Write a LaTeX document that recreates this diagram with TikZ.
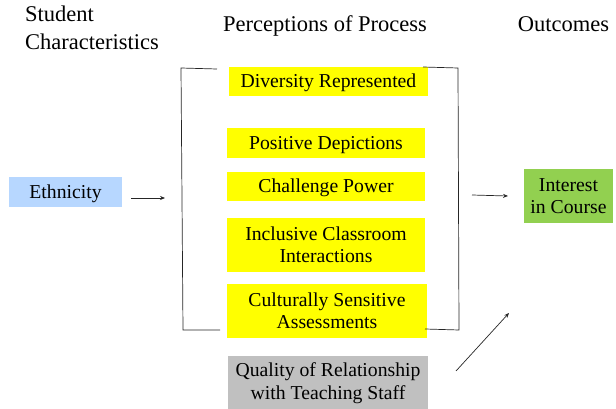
\documentclass[tikz,border=0pt]{standalone}
\usepackage{fontspec}
\setmainfont{Liberation Serif}
\newfontfamily\timesf{Liberation Serif}
\usetikzlibrary{arrows.meta}
\definecolor{ybox}{HTML}{FFFF00}
\definecolor{bbox}{HTML}{B7D7FF}
\definecolor{gbox}{HTML}{92D050}
\definecolor{grbox}{HTML}{C0C0C0}
\begin{document}
\begin{tikzpicture}[x=1pt,y=-1pt,
  hdr/.style={inner sep=0pt,font=\timesf\fontsize{22.5}{28}\selectfont},
  boxbase/.style={inner sep=0pt,align=center,font=\timesf\fontsize{19.7}{22.5}\selectfont},
  oneline/.style={text height=17pt,text depth=4pt},
  ybx/.style={boxbase,fill=ybox},
  conn/.style={draw=black!85,line width=0.7pt},
  arr/.style={conn,-{Stealth[length=5pt,width=4pt]}}]
\useasboundingbox (0,0) rectangle (616,409);
% headers
\node[hdr,align=left,anchor=base west] (h1) at (25,50) {Student\\Characteristics};
\node[hdr,anchor=base] (h2) at (325,32) {Perceptions of Process};
\node[hdr,anchor=base] (h3) at (563.5,32) {Outcomes};
% yellow boxes
\node[ybx,oneline,minimum width=199pt,minimum height=29pt] (div) at (328.5,81.5) {Diversity Represented};
\node[ybx,oneline,minimum width=198pt,minimum height=30pt] (pos) at (326,143) {Positive Depictions};
\node[ybx,oneline,minimum width=198pt,minimum height=29pt] (chal) at (326,186.5) {Challenge Power};
\node[ybx,minimum width=198pt,minimum height=54pt] (incl) at (326,245) {Inclusive Classroom\\Interactions};
\node[ybx,minimum width=200pt,minimum height=54pt] (cult) at (327,311) {Culturally Sensitive\\Assessments};
\node[boxbase,fill=grbox,minimum width=200pt,minimum height=54pt] (qual) at (328,383) {Quality of Relationship\\with Teaching Staff};
\node[boxbase,oneline,fill=bbox,minimum width=113pt,minimum height=30pt] (eth) at (65.5,192) {Ethnicity};
\node[boxbase,fill=gbox,minimum width=89pt,minimum height=54pt] (int) at (568.5,196) {Interest\\in Course};
% bracket coordinates
\coordinate (lt1) at (217,69);
\coordinate (lt2) at (181,68);
\coordinate (lb1) at (183,330);
\coordinate (lb2) at (220,330);
\coordinate (rt1) at (423,67);
\coordinate (rt2) at (458,68);
\coordinate (rb1) at (459,330);
\coordinate (rb2) at (425,329);
\draw[conn] (lt1) -- (lt2) -- (lb1) -- (lb2);
\draw[conn] (rt1) -- (rt2) -- (rb1) -- (rb2);
% arrows
\coordinate (a1s) at (131,198);
\coordinate (a1e) at (165,198);
\coordinate (a2s) at (472,195);
\coordinate (a2e) at (508,196);
\coordinate (a3s) at (456,371);
\coordinate (a3e) at (509,313);
\draw[arr] (a1s) -- (a1e);
\draw[arr] (a2s) -- (a2e);
\draw[arr] (a3s) -- (a3e);
\end{tikzpicture}
\end{document}
